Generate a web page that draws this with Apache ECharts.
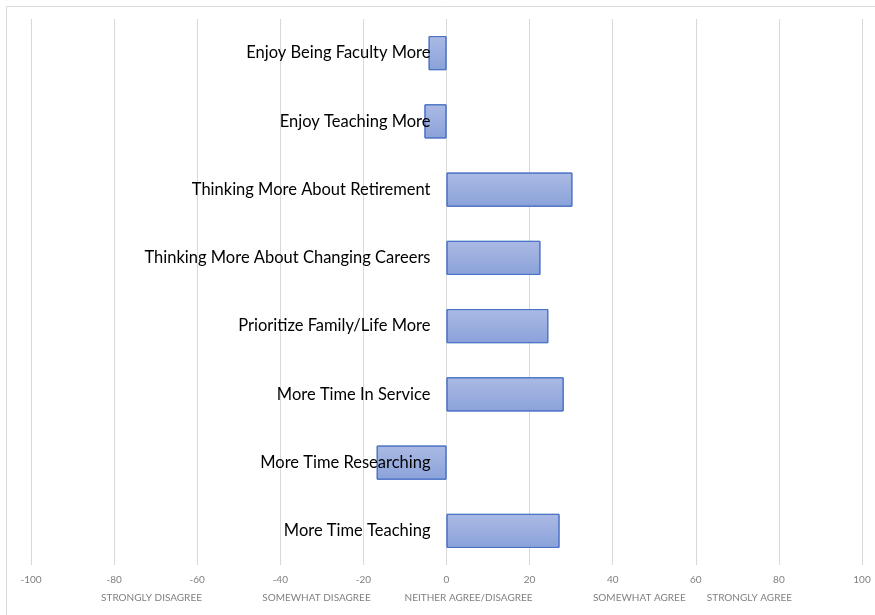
<!DOCTYPE html>
<html><head><meta charset="utf-8">
<script src="https://cdn.jsdelivr.net/npm/echarts@6/dist/echarts.min.js"></script>
<style>html,body{margin:0;padding:0;background:#fff}#c{width:875px;height:615px}</style>
</head><body><div id="c"></div>
<script>
const categories = [
  'Enjoy Being Faculty More',
  'Enjoy Teaching More',
  'Thinking More About Retirement',
  'Thinking More About Changing Careers',
  'Prioritize Family/Life More',
  'More Time In Service',
  'More Time Researching',
  'More Time Teaching'
];
const values = [-4.3, -5.3, 30.3, 22.6, 24.5, 28.2, -16.8, 27.2];
const scaleLabels = ['STRONGLY DISAGREE', 'SOMEWHAT DISAGREE', 'NEITHER AGREE/DISAGREE', 'SOMEWHAT AGREE', 'STRONGLY AGREE'];
const scaleLabelPositions = [-71, -31.3, 5.3, 46.4, 72.9];

const GRID_LEFT = 31;
const chart = echarts.init(document.getElementById('c'), null, {renderer: 'canvas'});
chart.setOption({
  animation: false,
  grid: {left: GRID_LEFT, right: 13, top: 19, bottom: 50, containLabel: false, outerBoundsMode: 'none'},
  xAxis: {
    type: 'value', min: -100, max: 100, interval: 20,
    axisLine: {show: false}, axisTick: {show: false},
    splitLine: {show: true, lineStyle: {color: '#d9d9d9', width: 1}},
    axisLabel: {color: '#808080', fontSize: 10, margin: 10, fontFamily: 'Lato'}
  },
  yAxis: {
    type: 'category', inverse: true, data: categories, z: 10,
    axisLine: {show: false, onZero: false},
    axisTick: {show: false},
    axisLabel: {color: '#000', fontSize: 16.5, margin: 16, fontFamily: 'Lato'}
  },
  series: [{
    type: 'bar', data: values, barWidth: '50%',
    itemStyle: {
      color: new echarts.graphic.LinearGradient(0, 0, 0, 1, [
        {offset: 0, color: '#abbae4'}, {offset: 1, color: '#8aa2da'}
      ]),
      borderColor: '#4a72c6', borderWidth: 1
    }
  }]
});
const zeroPx = chart.convertToPixel({xAxisIndex: 0}, 0);
const graphics = [{
  type: 'rect', id: 'frame', shape: {x: 6.5, y: 6.5, width: 900, height: 700},
  style: {fill: 'none', stroke: '#d9d9d9', lineWidth: 1}, silent: true, z: -1
}].concat(scaleLabels.map((t, i) => ({
  type: 'text', id: 'sl' + i,
  x: chart.convertToPixel({xAxisIndex: 0}, scaleLabelPositions[i]),
  y: 598,
  style: {text: t, fill: '#808080', font: '10px Lato', textAlign: 'center', textVerticalAlign: 'middle'}
})));
chart.setOption({
  yAxis: {axisLabel: {margin: 16 - (zeroPx - GRID_LEFT)}},
  graphic: graphics
});
</script></body></html>
